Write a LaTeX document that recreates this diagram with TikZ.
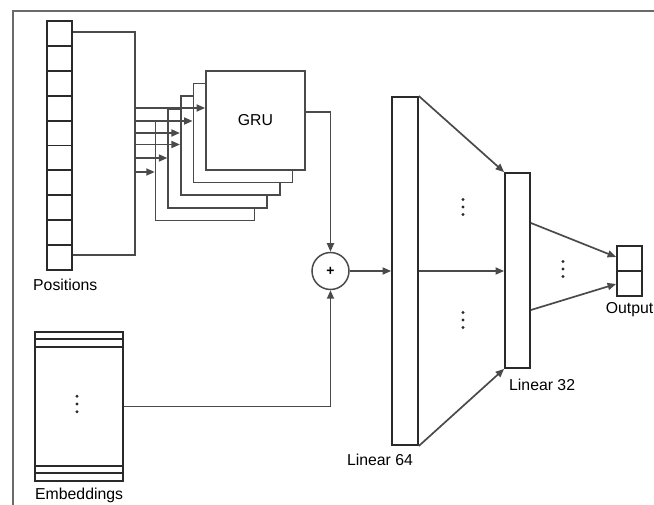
\documentclass[tikz,border=0pt]{standalone}
\usepackage{fontspec}
\setmainfont{Liberation Sans}
\usetikzlibrary{arrows.meta,calc}
\definecolor{lc}{HTML}{4a4a4a}
\definecolor{dk}{HTML}{2a2a2a}
\definecolor{fr}{HTML}{6a6a6a}
\begin{document}
\begin{tikzpicture}[x=1pt,y=-1pt,
  font=\fontsize{15.8}{19}\selectfont,
  ln/.style={draw=lc,line width=1.7pt},
  arr/.style={ln,-{Triangle[length=8.5pt,width=7pt]}},
  cell/.style={draw=dk,line width=1.9pt,minimum width=25pt,minimum height=24.9pt,inner sep=0pt,fill=white},
  gru/.style={draw=lc,line width=1.7pt,fill=white,minimum width=99pt,minimum height=99pt,inner sep=0pt},
  lbl/.style={inner sep=0pt,text=black},
  bar/.style={draw=dk,line width=1.8pt,fill=white,inner sep=0pt},
  vd/.style={fill=dk,draw=none,circle,minimum size=3.2pt,inner sep=0pt}]
\useasboundingbox (0,0) rectangle (654,505);
% frame
\draw[fr,line width=2.4pt] (13,505) -- (13,11) -- (654,11);
% positions column
\foreach \i in {1,...,10}{
  \node[cell] (p\i) at (59.5,{21+24.9*(\i-0.5)}) {};
}
\node[lbl,anchor=west] (poslbl) at (33,285) {Positions};
% bracket
\coordinate (b1) at (135,32);
\coordinate (b2) at (135,255);
\draw[ln] (p1.east |- b1) -- (b1) -- (b2) -- (p10.east |- b2);
% GRU boxes (back to front)
\foreach \k in {5,4,3,2,1}{
  \node[gru] (g\k) at ({255.5-12.6*(\k-1)},{120.5+12.6*(\k-1)}) {};
}
\node[lbl] (grutxt) at (g1.center) {GRU};
% arrows into GRU boxes
\coordinate (a1) at (135,108);
\coordinate (a2) at (135,121);
\coordinate (a3) at (135,133);
\coordinate (a4) at (135,144.5);
\coordinate (a5) at (135,158);
\coordinate (a6) at (135,172);
\draw[arr] (a1) -- (a1 -| g1.west);
\draw[arr] (a2) -- (a2 -| g2.west);
\draw[arr] (a3) -- (a3 -| g3.west);
\draw[arr] (a4) -- (a4 -| g3.west);
\draw[arr] (a5) -- (a5 -| g4.west);
\draw[arr] (a6) -- (a6 -| g5.west);
% plus
\node[draw=lc,line width=1.5pt,circle,minimum size=37pt,inner sep=0pt,fill=white] (plus) at (330.5,271) {\fontsize{14}{14}\selectfont\bfseries +};
\draw[arr] ([yshift=8.5pt]g1.east) -| (plus.north);
% embeddings
\node[bar,minimum width=88pt,minimum height=149pt] (emb) at (79,406.5) {};
\foreach \yy in {339,347,466,473}{
  \draw[dk,line width=1.6pt] (emb.west |- 0,\yy) -- (emb.east |- 0,\yy);
}
\foreach \dy in {-7.7,0,7.7}{ \node[vd] at (77,404+\dy) {}; }
\node[lbl,anchor=west] (emblbl) at (35,495) {Embeddings};
\draw[arr] (emb.east) -| (plus.south);
% linear layers
\node[bar,minimum width=26pt,minimum height=348pt] (l64) at (405,271) {};
\node[bar,minimum width=25pt,minimum height=195pt] (l32) at (517.5,270.5) {};
\node[bar,minimum width=25pt,minimum height=50pt] (out) at (629.5,271) {};
\draw[dk,line width=1.6pt] (out.west) -- (out.east);
\draw[arr] (plus.east) -- (plus.east -| l64.west);
\draw[arr] (l64.north east) -- (l32.north west);
\draw[arr] (l64.east |- 0,271) -- (l32.west |- 0,271);
\draw[arr] (l64.south east) -- (l32.south west);
\draw[arr] ([yshift=47.5pt]l32.east) -- ([yshift=14pt]out.west);
\draw[arr] ([yshift=-39.5pt]l32.east) -- ([yshift=-13pt]out.west);
\foreach \cx/\cy in {463/207,463/320,563/269}{
  \foreach \dy in {-7.5,0,7.5}{ \node[vd] at (\cx,\cy+\dy) {}; }
}
\node[lbl] (l64lbl) at (380,460) {Linear 64};
\node[lbl,anchor=west] (l32lbl) at (509,385) {Linear 32};
\node[lbl] (outlbl) at (629.5,310) {Output};
\end{tikzpicture}
\end{document}
